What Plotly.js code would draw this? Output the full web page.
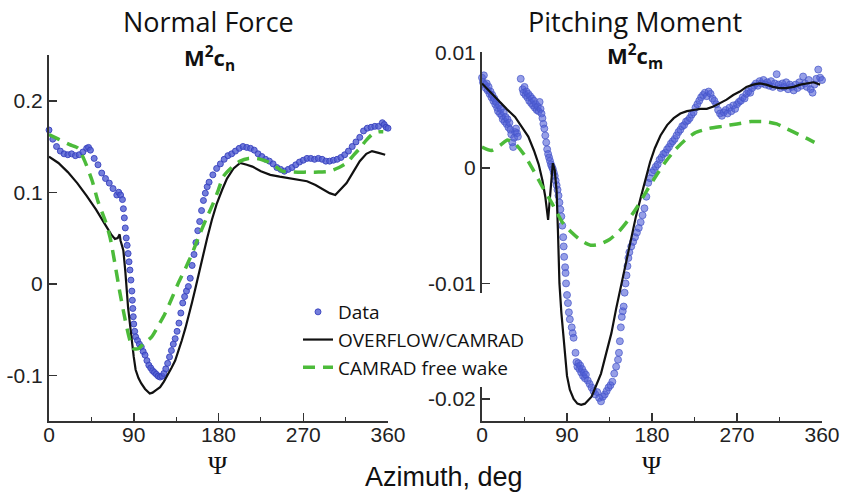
<!DOCTYPE html>
<html><head><meta charset="utf-8">
<script src="https://cdn.plot.ly/plotly-3.0.1.min.js"></script>
<style>html,body{margin:0;padding:0;background:#fff}#chart{width:843px;height:492px}</style>
</head><body><div id="chart"></div>
<script>
// ---------- Normal force (M^2 c_n) ----------
const cnDataAz = [0,4,8,12,16,20,24,28,32,36,40,42,44,48,52,56,60,64,68,72,74,76,78,79,80,81,82,83,84,85,86,87,88,88.5,89,89.5,90,91,92,94,96,98,100,102,104,106,108,110,112,114,116,118,120,122,124,126,128,130,132,134,136,138,140,142,144,146,148,150,152,154,156,158,160,162,164,166,168,170,174,178,182,186,190,194,198,202,206,210,214,218,222,226,230,234,238,242,246,250,254,258,262,266,270,274,278,282,286,290,294,298,302,306,310,314,318,322,326,330,334,338,342,346,350,354,356,358,360];
const cnDataVal = [0.168,0.158,0.150,0.145,0.142,0.141,0.142,0.140,0.141,0.144,0.148,0.149,0.146,0.137,0.130,0.121,0.115,0.110,0.104,0.097,0.100,0.097,0.092,0.082,0.072,0.061,0.050,0.042,0.033,0.024,0.015,0.004,-0.008,-0.018,-0.027,-0.036,-0.044,-0.052,-0.058,-0.062,-0.066,-0.069,-0.074,-0.078,-0.084,-0.089,-0.092,-0.095,-0.097,-0.099,-0.101,-0.102,-0.101,-0.098,-0.093,-0.087,-0.080,-0.073,-0.066,-0.060,-0.052,-0.043,-0.032,-0.021,-0.014,-0.008,-0.003,0.006,0.020,0.032,0.045,0.058,0.068,0.080,0.091,0.099,0.106,0.111,0.119,0.126,0.131,0.136,0.140,0.142,0.145,0.148,0.150,0.149,0.148,0.146,0.142,0.139,0.136,0.134,0.131,0.127,0.125,0.123,0.125,0.127,0.130,0.133,0.135,0.137,0.137,0.136,0.137,0.136,0.134,0.134,0.135,0.136,0.138,0.141,0.145,0.150,0.155,0.160,0.167,0.170,0.171,0.172,0.172,0.176,0.174,0.171,0.170];
const cnOverflowAz = [0,10,20,30,40,50,60,66,70,73,75,76,78,79,81,82.5,84,86,88,90,92,95,98,102,107,110,114,118,122,126,130,134,138,141,145,148,152,155,158,162,165,168,173,178,184,189,196,203,210,216,225,235,245,256,265,274,283,291,298,304,310,316,323,330,337,343,350,357];
const cnOverflowVal = [0.139,0.132,0.122,0.110,0.096,0.081,0.064,0.054,0.049,0.050,0.054,0.047,0.040,0.036,0.014,-0.008,-0.026,-0.044,-0.064,-0.080,-0.094,-0.103,-0.109,-0.115,-0.120,-0.119,-0.116,-0.113,-0.107,-0.100,-0.092,-0.084,-0.072,-0.062,-0.048,-0.037,-0.020,-0.007,0.007,0.025,0.038,0.050,0.070,0.087,0.103,0.115,0.126,0.132,0.130,0.128,0.123,0.119,0.117,0.115,0.113,0.112,0.108,0.103,0.099,0.097,0.103,0.110,0.122,0.134,0.142,0.145,0.143,0.141];
const cnCamradAz = [0,10,22,31,38,46,52,60,65,70,75,81,86,90,95,100,109,116,123,130,137,145,152,160,167,174,180,185,194,203,212,221,228,235,242,248,260,274,286,298,308,316,323,330,337,344,350,355];
const cnCamradVal = [0.163,0.158,0.152,0.148,0.134,0.112,0.090,0.068,0.050,0.022,-0.008,-0.040,-0.062,-0.071,-0.071,-0.066,-0.058,-0.046,-0.033,-0.017,0.000,0.017,0.033,0.054,0.071,0.087,0.103,0.117,0.127,0.134,0.137,0.137,0.135,0.132,0.127,0.123,0.122,0.122,0.122,0.123,0.127,0.132,0.140,0.148,0.157,0.164,0.166,0.166];

// ---------- Pitching moment (M^2 c_m) ----------
const cmDataAz = [0,1,2,3,4,5,6,7,8,9,10,11,12,13,14,15,16,17,18,19,20,21,22,23,24,25,26,27,28,29,30,31,32,33,34,35,36,37,38,41,43,44,45,46,47,48,49,50,51,52,53,54,55,56,57,58,59,60,61,62,63,64,65,66,67,68,69,70,71,72,73,74,75,76,77,78,79,80,81,82,83,84,85,86,86.5,87,88,88.5,89,90,91,92,93,95,96,97,99,100,101,102,103,104,105,106,107,108,109,110,112,114,116,118,120,122,124,126,128,130,132,134,136,138,140,142,144,145,146,147,148,149,150,151,152,153,154,155,156,158,160,162,164,166,168,170,172,174,176,178,180,182,184,186,188,190,192,194,196,198,200,202,204,206,208,210,212,214,216,218,220,222,224,226,228,230,232,234,236,238,240,242,244,246,248,250,252,254,256,258,260,262,264,266,268,270,272,274,276,278,280,282,284,286,288,290,292,294,296,298,300,302,304,306,308,310,312,314,316,318,320,322,324,326,328,330,332,334,336,338,340,342,344,346,348,350,352,354,356,358,360];
const cmDataVal = [0.0078,0.0074,0.0080,0.0072,0.0069,0.0073,0.0067,0.0070,0.0064,0.0066,0.0061,0.0063,0.0058,0.0060,0.0055,0.0057,0.0052,0.0049,0.0054,0.0047,0.0051,0.0045,0.0042,0.0048,0.0040,0.0044,0.0038,0.0042,0.0035,0.0039,0.0033,0.0029,0.0022,0.0018,0.0026,0.0031,0.0034,0.0030,0.0027,0.0077,0.0068,0.0065,0.0070,0.0063,0.0066,0.0061,0.0064,0.0058,0.0062,0.0056,0.0060,0.0054,0.0058,0.0052,0.0055,0.0050,0.0053,0.0049,0.0057,0.0051,0.0047,0.0043,0.0038,0.0034,0.0028,0.0022,0.0016,0.0012,0.0009,0.0006,0.0003,0.0001,-0.0001,-0.0004,-0.0007,-0.0011,-0.0015,-0.0019,-0.0024,-0.0030,-0.0036,-0.0042,-0.0050,-0.0060,-0.0068,-0.0077,-0.0086,-0.0091,-0.0100,-0.0110,-0.0117,-0.0125,-0.0131,-0.0138,-0.0143,-0.0147,-0.0160,-0.0168,-0.0172,-0.0169,-0.0174,-0.0171,-0.0177,-0.0174,-0.0180,-0.0177,-0.0182,-0.0179,-0.0184,-0.0187,-0.0190,-0.0193,-0.0196,-0.0194,-0.0199,-0.0202,-0.0198,-0.0196,-0.0193,-0.0190,-0.0188,-0.0185,-0.0178,-0.0172,-0.0166,-0.0160,-0.0150,-0.0138,-0.0129,-0.0124,-0.0120,-0.0108,-0.0100,-0.0093,-0.0085,-0.0078,-0.0073,-0.0068,-0.0064,-0.0060,-0.0056,-0.0052,-0.0047,-0.0041,-0.0035,-0.0025,-0.0013,-0.0009,-0.0004,-0.0002,0.0001,0.0003,0.0007,0.0009,0.0012,0.0013,0.0016,0.0018,0.0021,0.0023,0.0025,0.0028,0.0031,0.0033,0.0036,0.0037,0.0040,0.0041,0.0043,0.0046,0.0048,0.0052,0.0055,0.0058,0.0061,0.0063,0.0065,0.0062,0.0066,0.0064,0.0060,0.0058,0.0055,0.0050,0.0047,0.0045,0.0048,0.0050,0.0047,0.0052,0.0049,0.0054,0.0051,0.0055,0.0057,0.0058,0.0061,0.0060,0.0064,0.0066,0.0065,0.0069,0.0071,0.0073,0.0071,0.0075,0.0073,0.0076,0.0072,0.0074,0.0071,0.0075,0.0070,0.0073,0.0081,0.0072,0.0069,0.0073,0.0070,0.0074,0.0068,0.0072,0.0070,0.0067,0.0072,0.0069,0.0074,0.0071,0.0079,0.0073,0.0070,0.0076,0.0068,0.0065,0.0072,0.0077,0.0085,0.0078,0.0076];
const cmOverflowAz = [0,8,17,26,35,42,49,55,60,64,67,70,72,74,75,77,79,80.5,82,84,86,88,90,93,97,101,105,109,113,116,120,126,131,137,142,147,152,158,163,168,173,178,183,189,196,203,210,217,224,231,238,245,252,259,266,273,280,287,294,301,308,315,322,330,337,344,351,358];
const cmOverflowVal = [0.0073,0.0066,0.0059,0.0051,0.0044,0.0036,0.0027,0.0015,0.0003,-0.0011,-0.0025,-0.0045,-0.0025,-0.0003,0.0004,-0.0002,-0.0020,-0.0057,-0.0100,-0.0125,-0.0145,-0.0165,-0.0180,-0.0192,-0.0200,-0.0204,-0.0205,-0.0204,-0.0201,-0.0198,-0.0190,-0.0178,-0.0162,-0.0143,-0.0122,-0.0103,-0.0083,-0.0062,-0.0042,-0.0026,-0.0010,0.0005,0.0017,0.0028,0.0037,0.0043,0.0047,0.0049,0.0050,0.0051,0.0051,0.0053,0.0056,0.0059,0.0063,0.0066,0.0070,0.0072,0.0073,0.0072,0.0070,0.0069,0.0069,0.0070,0.0072,0.0073,0.0074,0.0072];
const cmCamradAz = [0,10,20,27,35,45,55,65,75,85,95,105,115,125,135,145,155,165,175,185,195,205,215,225,240,255,270,285,300,312,322,335,345,352];
const cmCamradVal = [0.0018,0.0015,0.0020,0.0024,0.0021,0.0011,-0.0003,-0.0018,-0.0032,-0.0047,-0.0056,-0.0063,-0.0067,-0.0066,-0.0062,-0.0055,-0.0045,-0.0033,-0.0019,-0.0006,0.0006,0.0016,0.0024,0.0030,0.0034,0.0036,0.0038,0.0040,0.0040,0.0038,0.0034,0.0029,0.0025,0.0022];

// ---------- ticks / labels ----------
const azTicks = [0,90,180,270,360];
const azMinorTicks = [45,135,225,315];
const cnTickVals = [-0.1,0,0.1,0.2];
const cnTickText = ['-0.1','0','0.1','0.2'];
const cmTickVals = [-0.02,-0.01,0,0.01];
const cmTickText = ['-0.02','-0.01','0','0.01'];
const seriesNames = ['Data','OVERFLOW/CAMRAD','CAMRAD free wake'];

const dataMarker = {symbol:'circle', size:6, color:'rgba(80,92,210,0.8)', line:{color:'rgba(55,65,190,0.9)', width:1}};
const dataMarker2 = {symbol:'circle', size:7, color:'rgba(80,95,215,0.6)', line:{color:'rgba(70,85,200,0.7)', width:1}};
const blackLine = {color:'#111', width:2.2};
const greenLine = {color:'#4cbb3a', width:3.5, dash:'12px,8px'};

const traces = [
  {x:cnDataAz, y:cnDataVal, mode:'markers', name:seriesNames[0], marker:dataMarker, xaxis:'x', yaxis:'y', cliponaxis:false},
  {x:cnOverflowAz, y:cnOverflowVal, mode:'lines', name:seriesNames[1], line:blackLine, xaxis:'x', yaxis:'y'},
  {x:cnCamradAz, y:cnCamradVal, mode:'lines', name:seriesNames[2], line:Object.assign({shape:'spline', smoothing:0.6}, greenLine), xaxis:'x', yaxis:'y'},
  {x:cmDataAz, y:cmDataVal, mode:'markers', name:seriesNames[0], marker:dataMarker2, xaxis:'x2', yaxis:'y2', showlegend:false, cliponaxis:false},
  {x:cmOverflowAz, y:cmOverflowVal, mode:'lines', name:seriesNames[1], line:blackLine, xaxis:'x2', yaxis:'y2', showlegend:false},
  {x:cmCamradAz, y:cmCamradVal, mode:'lines', name:seriesNames[2], line:Object.assign({shape:'spline', smoothing:0.6}, greenLine), xaxis:'x2', yaxis:'y2', showlegend:false}
];

const W = 843, H = 492;
const tickFont = {family:'Liberation Sans, Arial, sans-serif', size:21, color:'#222'};
function xAx(l, r, anchor){
  return {domain:[l/W, r/W], range:[0,360], anchor:anchor, tickvals:azTicks, ticks:'inside', ticklen:8, tickwidth:1.5, tickcolor:'#333',
    showline:true, linecolor:'#333', linewidth:2, showgrid:false, zeroline:false, tickfont:tickFont, ticklabelstandoff:-6,
    minor:{tickvals:azMinorTicks, ticks:'inside', ticklen:4, tickwidth:1.2, tickcolor:'#333', showgrid:false}};
}
function yAx(top, range, tv, tt, anchor){
  return {domain:[(H-421)/H, (H-top)/H], range:range, anchor:anchor, tickvals:tv, ticktext:tt, ticks:'inside', ticklen:8, tickwidth:1.5, tickcolor:'#333',
    showline:true, linecolor:'#333', linewidth:2, showgrid:false, zeroline:false, tickfont:tickFont};
}
const titleFont = {family:'Open Sans, sans-serif', size:27, color:'#111'};
const subFont = {family:'Open Sans, sans-serif', size:22, color:'#111'};
const psiFont = {family:'Liberation Serif, serif', size:26, color:'#111'};
const layout = {
  width:W, height:H, margin:{l:0,r:0,t:0,b:0}, paper_bgcolor:'#fff', plot_bgcolor:'#fff',
  showlegend:true,
  legend:{x:298/W, y:(H-293)/H, xanchor:'left', yanchor:'top', bgcolor:'#fff', borderwidth:0,
    font:{family:'Open Sans, sans-serif', size:19, color:'#111'}, tracegroupgap:0},
  xaxis:xAx(49,388,'y'),
  yaxis:yAx(55,[-0.15,0.25],cnTickVals,cnTickText,'x'),
  xaxis2:xAx(482,822,'y2'),
  yaxis2:yAx(52,[-0.0219,0.01002],cmTickVals,cmTickText,'x2'),
  annotations:[
    {text:'Normal Force', x:208/W, y:(H-21)/H, xref:'paper', yref:'paper', xanchor:'center', yanchor:'middle', showarrow:false, font:titleFont},
    {text:'Pitching Moment', x:635/W, y:(H-21)/H, xref:'paper', yref:'paper', xanchor:'center', yanchor:'middle', showarrow:false, font:titleFont},
    {text:'<b>M<sup>2</sup>c<sub>n</sub></b>', x:209/W, y:(H-59)/H, xref:'paper', yref:'paper', xanchor:'center', yanchor:'middle', showarrow:false, font:subFont},
    {text:'<b>M<sup>2</sup>c<sub>m</sub></b>', x:635/W, y:(H-57)/H, xref:'paper', yref:'paper', xanchor:'center', yanchor:'middle', showarrow:false, font:subFont},
    {text:'Ψ', x:218/W, y:(H-465)/H, xref:'paper', yref:'paper', xanchor:'center', yanchor:'middle', showarrow:false, font:psiFont},
    {text:'Ψ', x:652/W, y:(H-465)/H, xref:'paper', yref:'paper', xanchor:'center', yanchor:'middle', showarrow:false, font:psiFont},
    {text:'Azimuth, deg', x:444/W, y:(H-477)/H, xref:'paper', yref:'paper', xanchor:'center', yanchor:'middle', showarrow:false, font:{family:'Liberation Sans, Arial, sans-serif', size:27, color:'#111'}}
  ]
};
Plotly.newPlot('chart', traces, layout, {displayModeBar:false, staticPlot:true});
</script>
</body></html>
